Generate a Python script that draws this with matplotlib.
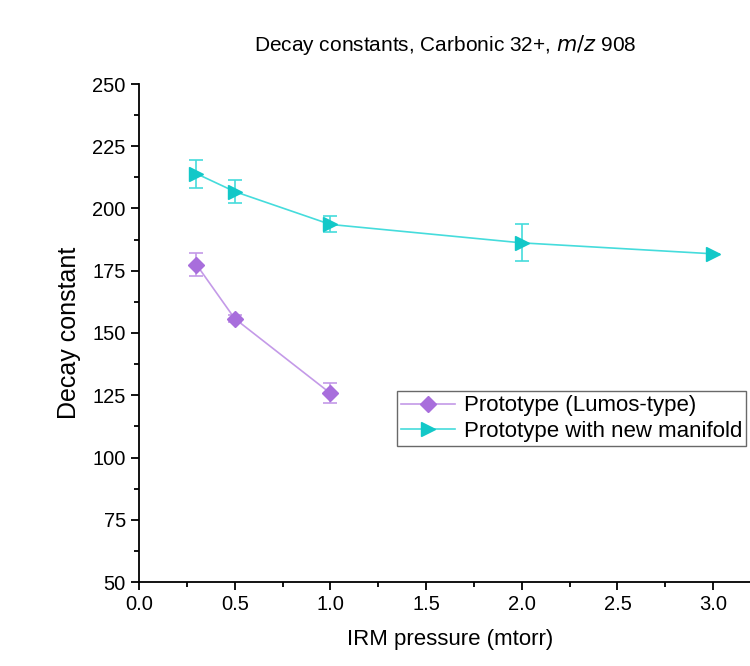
import matplotlib
matplotlib.use("Agg")
import matplotlib.pyplot as plt
from matplotlib.ticker import MultipleLocator

plt.rcParams['font.family'] = ['Liberation Sans', 'DejaVu Sans']

# data
lumos_x = [0.3, 0.5, 1.0]
lumos_y = [177.5, 155.8, 125.8]
lumos_err = [4.6, 1.5, 4.0]

manifold_x = [0.3, 0.5, 1.0, 2.0, 3.0]
manifold_y = [214.0, 206.8, 193.6, 186.2, 181.8]
manifold_err = [5.6, 4.6, 3.2, 7.4, 0.0]

purple = '#a86edc'
purple_light = '#c49ae8'
cyan = '#12c8c8'
cyan_light = '#45dcdc'

fig = plt.figure(figsize=(7.5, 6.66), dpi=100)
ax = fig.add_axes([139 / 750, 1 - 582 / 666, (761 - 139) / 750, (582 - 84) / 666])

# error bars (kept out of the legend)
ax.errorbar(lumos_x, lumos_y, yerr=lumos_err, fmt='none', ecolor=purple_light,
            elinewidth=1.2, capsize=5, capthick=1.2)
ax.errorbar(manifold_x, manifold_y, yerr=manifold_err, fmt='none', ecolor=cyan_light,
            elinewidth=1.2, capsize=5, capthick=1.2)
ax.plot(lumos_x, lumos_y, color=purple_light, lw=1.2, marker='D', ms=8.5,
        mfc=purple, mec=purple, label='Prototype (Lumos-type)')
ax.plot(manifold_x, manifold_y, color=cyan_light, lw=1.2, marker='>', ms=10,
        mfc=cyan, mec=cyan, label='Prototype with new manifold')

ax.set_xlim(0, 3.25)
ax.set_ylim(50, 250)
ax.xaxis.set_major_locator(MultipleLocator(0.5))
ax.xaxis.set_minor_locator(MultipleLocator(0.25))
ax.yaxis.set_major_locator(MultipleLocator(25))
ax.yaxis.set_minor_locator(MultipleLocator(12.5))
ax.tick_params(which='major', direction='out', length=6, width=1.3, labelsize=14.5)
ax.tick_params(which='minor', direction='out', length=3.5, width=1.3)
ax.xaxis.set_major_formatter(plt.FuncFormatter(lambda v, p: f'{v:.1f}'))

for s in ['top', 'right']:
    ax.spines[s].set_visible(False)
for s in ['left', 'bottom']:
    ax.spines[s].set_linewidth(1.3)

ax.set_xlabel('IRM pressure (mtorr)', fontsize=16, labelpad=11)
ax.set_ylabel('Decay constant', fontsize=18, labelpad=8)
fig.text(445 / 750, 1 - 45 / 666, 'Decay constants, Carbonic 32+, $\\mathit{m/z}$ 908',
         ha='center', va='center', fontsize=15)

leg = ax.legend(loc='upper left', bbox_to_anchor=(397 / 750, 1 - 391 / 666),
                bbox_transform=fig.transFigure, fontsize=16, frameon=True,
                fancybox=False, edgecolor='#444444', handlelength=2.4,
                borderpad=0.2, labelspacing=0.2, handletextpad=0.4, borderaxespad=0)
leg.get_frame().set_linewidth(1.0)

fig.savefig('out.png', dpi=100)
